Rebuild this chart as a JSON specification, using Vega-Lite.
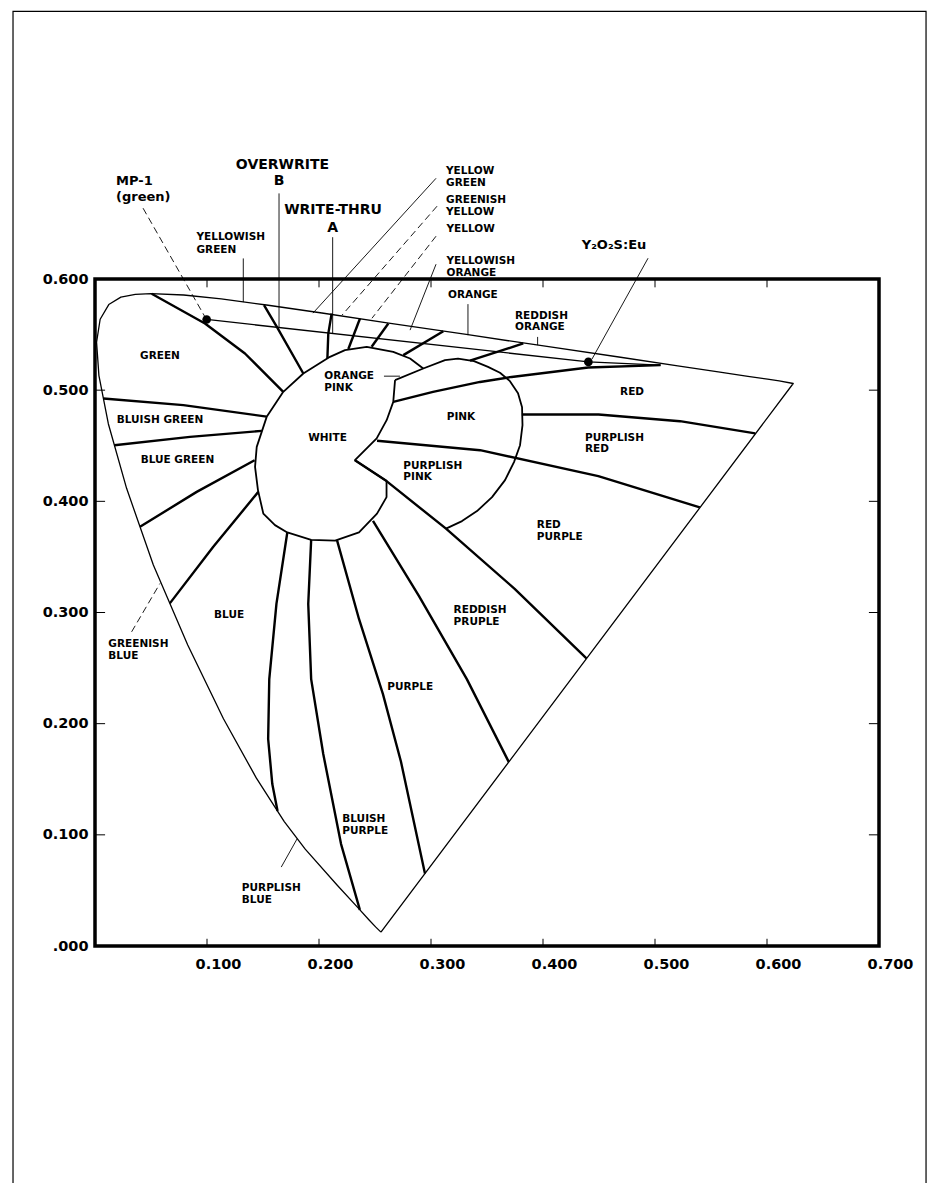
{
"$schema":"https://vega.github.io/schema/vega-lite/v6.json",
"width":784,"height":667,
"autosize":{"type":"none"},
"padding":{"left":95,"top":279,"right":62,"bottom":237},
"background":"white",
"config":{"view":{"stroke":"black","strokeWidth":3.5},"font":"DejaVu Sans"},
"datasets":{
"lines":[
{"id":"locus","k":"thin","o":0,"u":0.2553,"v":0.0125},
{"id":"locus","k":"thin","o":1,"u":0.2505,"v":0.0172},
{"id":"locus","k":"thin","o":2,"u":0.2445,"v":0.0236},
{"id":"locus","k":"thin","o":3,"u":0.2347,"v":0.0345},
{"id":"locus","k":"thin","o":4,"u":0.2161,"v":0.0549},
{"id":"locus","k":"thin","o":5,"u":0.1877,"v":0.0871},
{"id":"locus","k":"thin","o":6,"u":0.1690,"v":0.1119},
{"id":"locus","k":"thin","o":7,"u":0.1441,"v":0.1510},
{"id":"locus","k":"thin","o":8,"u":0.1147,"v":0.2044},
{"id":"locus","k":"thin","o":9,"u":0.0828,"v":0.2708},
{"id":"locus","k":"thin","o":10,"u":0.0521,"v":0.3427},
{"id":"locus","k":"thin","o":11,"u":0.0282,"v":0.4117},
{"id":"locus","k":"thin","o":12,"u":0.0119,"v":0.4698},
{"id":"locus","k":"thin","o":13,"u":0.0035,"v":0.5131},
{"id":"locus","k":"thin","o":14,"u":0.0014,"v":0.5431},
{"id":"locus","k":"thin","o":15,"u":0.0046,"v":0.5638},
{"id":"locus","k":"thin","o":16,"u":0.0123,"v":0.5770},
{"id":"locus","k":"thin","o":17,"u":0.0231,"v":0.5837},
{"id":"locus","k":"thin","o":18,"u":0.0360,"v":0.5861},
{"id":"locus","k":"thin","o":19,"u":0.0501,"v":0.5868},
{"id":"locus","k":"thin","o":20,"u":0.0792,"v":0.5856},
{"id":"locus","k":"thin","o":21,"u":0.1127,"v":0.5821},
{"id":"locus","k":"thin","o":22,"u":0.1531,"v":0.5766},
{"id":"locus","k":"thin","o":23,"u":0.2026,"v":0.5694},
{"id":"locus","k":"thin","o":24,"u":0.2623,"v":0.5604},
{"id":"locus","k":"thin","o":25,"u":0.3315,"v":0.5501},
{"id":"locus","k":"thin","o":26,"u":0.4035,"v":0.5393},
{"id":"locus","k":"thin","o":27,"u":0.4692,"v":0.5296},
{"id":"locus","k":"thin","o":28,"u":0.5203,"v":0.5219},
{"id":"locus","k":"thin","o":29,"u":0.5565,"v":0.5165},
{"id":"locus","k":"thin","o":30,"u":0.5830,"v":0.5125},
{"id":"locus","k":"thin","o":31,"u":0.6005,"v":0.5099},
{"id":"locus","k":"thin","o":32,"u":0.6109,"v":0.5084},
{"id":"locus","k":"thin","o":33,"u":0.6234,"v":0.5060},
{"id":"locus","k":"thin","o":34,"u":0.2553,"v":0.0125},
{"id":"inner","k":"thin","o":0,"u":0.0997,"v":0.5636},
{"id":"inner","k":"thin","o":1,"u":0.4405,"v":0.5254},
{"id":"inner","k":"thin","o":2,"u":0.5050,"v":0.5225},
{"id":"b1","k":"thick","o":0,"u":0.0506,"v":0.5868},
{"id":"b1","k":"thick","o":1,"u":0.0982,"v":0.5600},
{"id":"b1","k":"thick","o":2,"u":0.1339,"v":0.5330},
{"id":"b1","k":"thick","o":3,"u":0.1681,"v":0.4985},
{"id":"b2","k":"thick","o":0,"u":0.0075,"v":0.4925},
{"id":"b2","k":"thick","o":1,"u":0.0789,"v":0.4865},
{"id":"b2","k":"thick","o":2,"u":0.1533,"v":0.4762},
{"id":"b3","k":"thick","o":0,"u":0.0173,"v":0.4505},
{"id":"b3","k":"thick","o":1,"u":0.0848,"v":0.4580},
{"id":"b3","k":"thick","o":2,"u":0.1490,"v":0.4634},
{"id":"b4","k":"thick","o":0,"u":0.0402,"v":0.3771},
{"id":"b4","k":"thick","o":1,"u":0.0908,"v":0.4085},
{"id":"b4","k":"thick","o":2,"u":0.1425,"v":0.4370},
{"id":"b5","k":"thick","o":0,"u":0.0668,"v":0.3082},
{"id":"b5","k":"thick","o":1,"u":0.1056,"v":0.3591},
{"id":"b5","k":"thick","o":2,"u":0.1458,"v":0.4085},
{"id":"b6","k":"thick","o":0,"u":0.1717,"v":0.3720},
{"id":"b6","k":"thick","o":1,"u":0.1620,"v":0.3077},
{"id":"b6","k":"thick","o":2,"u":0.1556,"v":0.2401},
{"id":"b6","k":"thick","o":3,"u":0.1546,"v":0.1862},
{"id":"b6","k":"thick","o":4,"u":0.1583,"v":0.1457},
{"id":"b6","k":"thick","o":5,"u":0.1630,"v":0.1215},
{"id":"b7","k":"thick","o":0,"u":0.1930,"v":0.3653},
{"id":"b7","k":"thick","o":1,"u":0.1904,"v":0.3077},
{"id":"b7","k":"thick","o":2,"u":0.1930,"v":0.2401},
{"id":"b7","k":"thick","o":3,"u":0.2038,"v":0.1727},
{"id":"b7","k":"thick","o":4,"u":0.2197,"v":0.0917},
{"id":"b7","k":"thick","o":5,"u":0.2365,"v":0.0325},
{"id":"b8","k":"thick","o":0,"u":0.2160,"v":0.3653},
{"id":"b8","k":"thick","o":1,"u":0.2357,"v":0.2942},
{"id":"b8","k":"thick","o":2,"u":0.2571,"v":0.2266},
{"id":"b8","k":"thick","o":3,"u":0.2732,"v":0.1657},
{"id":"b8","k":"thick","o":4,"u":0.2946,"v":0.0652},
{"id":"b9","k":"thick","o":0,"u":0.2482,"v":0.3825},
{"id":"b9","k":"thick","o":1,"u":0.2893,"v":0.3147},
{"id":"b9","k":"thick","o":2,"u":0.3320,"v":0.2401},
{"id":"b9","k":"thick","o":3,"u":0.3694,"v":0.1656},
{"id":"b10","k":"thick","o":0,"u":0.2321,"v":0.4370},
{"id":"b10","k":"thick","o":1,"u":0.2603,"v":0.4182},
{"id":"b10","k":"thick","o":2,"u":0.3134,"v":0.3754},
{"id":"b10","k":"thick","o":3,"u":0.3747,"v":0.3213},
{"id":"b10","k":"thick","o":4,"u":0.4388,"v":0.2587},
{"id":"b11","k":"thick","o":0,"u":0.2518,"v":0.4545},
{"id":"b11","k":"thick","o":1,"u":0.3438,"v":0.4460},
{"id":"b11","k":"thick","o":2,"u":0.4494,"v":0.4227},
{"id":"b11","k":"thick","o":3,"u":0.5400,"v":0.3946},
{"id":"b12","k":"thick","o":0,"u":0.3811,"v":0.4781},
{"id":"b12","k":"thick","o":1,"u":0.4496,"v":0.4781},
{"id":"b12","k":"thick","o":2,"u":0.5223,"v":0.4721},
{"id":"b12","k":"thick","o":3,"u":0.5895,"v":0.4611},
{"id":"b13","k":"thick","o":0,"u":0.2663,"v":0.4895},
{"id":"b13","k":"thick","o":1,"u":0.3018,"v":0.4984},
{"id":"b13","k":"thick","o":2,"u":0.3438,"v":0.5074},
{"id":"b13","k":"thick","o":3,"u":0.3720,"v":0.5119},
{"id":"b13","k":"thick","o":4,"u":0.4404,"v":0.5204},
{"id":"b13","k":"thick","o":5,"u":0.5050,"v":0.5225},
{"id":"ta","k":"thick","o":0,"u":0.1509,"v":0.5764},
{"id":"ta","k":"thick","o":1,"u":0.1625,"v":0.5567},
{"id":"ta","k":"thick","o":2,"u":0.1860,"v":0.5150},
{"id":"tb","k":"thick","o":0,"u":0.2113,"v":0.5689},
{"id":"tb","k":"thick","o":1,"u":0.2083,"v":0.5509},
{"id":"tb","k":"thick","o":2,"u":0.2075,"v":0.5287},
{"id":"tc","k":"thick","o":0,"u":0.2366,"v":0.5645},
{"id":"tc","k":"thick","o":1,"u":0.2262,"v":0.5370},
{"id":"td","k":"thick","o":0,"u":0.2619,"v":0.5600},
{"id":"td","k":"thick","o":1,"u":0.2470,"v":0.5390},
{"id":"te","k":"thick","o":0,"u":0.3110,"v":0.5530},
{"id":"te","k":"thick","o":1,"u":0.2753,"v":0.5315},
{"id":"tf","k":"thick","o":0,"u":0.3824,"v":0.5420},
{"id":"tf","k":"thick","o":1,"u":0.3348,"v":0.5265},
{"id":"blob","k":"outline","o":0,"u":0.2931,"v":0.5195},
{"id":"blob","k":"outline","o":1,"u":0.2813,"v":0.5285},
{"id":"blob","k":"outline","o":2,"u":0.2663,"v":0.5344},
{"id":"blob","k":"outline","o":3,"u":0.2426,"v":0.5389},
{"id":"blob","k":"outline","o":4,"u":0.2232,"v":0.5360},
{"id":"blob","k":"outline","o":5,"u":0.2098,"v":0.5300},
{"id":"blob","k":"outline","o":6,"u":0.1860,"v":0.5150},
{"id":"blob","k":"outline","o":7,"u":0.1681,"v":0.4985},
{"id":"blob","k":"outline","o":8,"u":0.1533,"v":0.4760},
{"id":"blob","k":"outline","o":9,"u":0.1444,"v":0.4490},
{"id":"blob","k":"outline","o":10,"u":0.1429,"v":0.4310},
{"id":"blob","k":"outline","o":11,"u":0.1455,"v":0.4101},
{"id":"blob","k":"outline","o":12,"u":0.1503,"v":0.3889},
{"id":"blob","k":"outline","o":13,"u":0.1607,"v":0.3786},
{"id":"blob","k":"outline","o":14,"u":0.1717,"v":0.3720},
{"id":"blob","k":"outline","o":15,"u":0.1930,"v":0.3653},
{"id":"blob","k":"outline","o":16,"u":0.2144,"v":0.3646},
{"id":"blob","k":"outline","o":17,"u":0.2357,"v":0.3720},
{"id":"blob","k":"outline","o":18,"u":0.2518,"v":0.3889},
{"id":"blob","k":"outline","o":19,"u":0.2603,"v":0.4038},
{"id":"blob","k":"outline","o":20,"u":0.2603,"v":0.4182},
{"id":"blob","k":"outline","o":21,"u":0.2321,"v":0.4370},
{"id":"blob","k":"outline","o":22,"u":0.2515,"v":0.4566},
{"id":"blob","k":"outline","o":23,"u":0.2604,"v":0.4730},
{"id":"blob","k":"outline","o":24,"u":0.2663,"v":0.4895},
{"id":"blob","k":"outline","o":25,"u":0.2679,"v":0.5090},
{"id":"ellipse","k":"outline","o":0,"u":0.2679,"v":0.5090},
{"id":"ellipse","k":"outline","o":1,"u":0.2931,"v":0.5195},
{"id":"ellipse","k":"outline","o":2,"u":0.3125,"v":0.5270},
{"id":"ellipse","k":"outline","o":3,"u":0.3241,"v":0.5283},
{"id":"ellipse","k":"outline","o":4,"u":0.3384,"v":0.5261},
{"id":"ellipse","k":"outline","o":5,"u":0.3509,"v":0.5210},
{"id":"ellipse","k":"outline","o":6,"u":0.3616,"v":0.5157},
{"id":"ellipse","k":"outline","o":7,"u":0.3705,"v":0.5081},
{"id":"ellipse","k":"outline","o":8,"u":0.3777,"v":0.4973},
{"id":"ellipse","k":"outline","o":9,"u":0.3813,"v":0.4847},
{"id":"ellipse","k":"outline","o":10,"u":0.3817,"v":0.4685},
{"id":"ellipse","k":"outline","o":11,"u":0.3795,"v":0.4505},
{"id":"ellipse","k":"outline","o":12,"u":0.3741,"v":0.4353},
{"id":"ellipse","k":"outline","o":13,"u":0.3661,"v":0.4191},
{"id":"ellipse","k":"outline","o":14,"u":0.3545,"v":0.4038},
{"id":"ellipse","k":"outline","o":15,"u":0.3411,"v":0.3912},
{"id":"ellipse","k":"outline","o":16,"u":0.3277,"v":0.3822},
{"id":"ellipse","k":"outline","o":17,"u":0.3134,"v":0.3754},
{"id":"lmp1","k":"dash","o":0,"u":0.0429,"v":0.6637},
{"id":"lmp1","k":"dash","o":1,"u":0.0982,"v":0.5659},
{"id":"lywg","k":"leader","o":0,"u":0.1324,"v":0.6185},
{"id":"lywg","k":"leader","o":1,"u":0.1324,"v":0.5792},
{"id":"lB","k":"leader","o":0,"u":0.1643,"v":0.6770},
{"id":"lB","k":"leader","o":1,"u":0.1643,"v":0.5564},
{"id":"lA","k":"leader","o":0,"u":0.2122,"v":0.6376},
{"id":"lA","k":"leader","o":1,"u":0.2122,"v":0.5510},
{"id":"lyg","k":"leader","o":0,"u":0.3045,"v":0.6906},
{"id":"lyg","k":"leader","o":1,"u":0.1946,"v":0.5693},
{"id":"lgy","k":"dash","o":0,"u":0.3054,"v":0.6655},
{"id":"lgy","k":"dash","o":1,"u":0.2205,"v":0.5674},
{"id":"ly","k":"dash","o":0,"u":0.3045,"v":0.6385},
{"id":"ly","k":"dash","o":1,"u":0.2473,"v":0.5647},
{"id":"lyo","k":"leader","o":0,"u":0.3045,"v":0.6133},
{"id":"lyo","k":"leader","o":1,"u":0.2813,"v":0.5540},
{"id":"lo","k":"leader","o":0,"u":0.3330,"v":0.5774},
{"id":"lo","k":"leader","o":1,"u":0.3330,"v":0.5495},
{"id":"lro","k":"leader","o":0,"u":0.3952,"v":0.5479},
{"id":"lro","k":"leader","o":1,"u":0.3952,"v":0.5405},
{"id":"ly2","k":"leader","o":0,"u":0.4938,"v":0.6187},
{"id":"ly2","k":"leader","o":1,"u":0.4437,"v":0.5279},
{"id":"lop","k":"leader","o":0,"u":0.2580,"v":0.5126},
{"id":"lop","k":"leader","o":1,"u":0.2723,"v":0.5126},
{"id":"lgb","k":"dash","o":0,"u":0.0327,"v":0.2826},
{"id":"lgb","k":"dash","o":1,"u":0.0580,"v":0.3261},
{"id":"lpb","k":"leader","o":0,"u":0.1663,"v":0.0710},
{"id":"lpb","k":"leader","o":1,"u":0.1805,"v":0.0965},
{"id":"page","k":"border","o":0,"u":-0.0732,"v":-0.25},
{"id":"page","k":"border","o":1,"u":-0.0732,"v":0.8408},
{"id":"page","k":"border","o":2,"u":0.7420,"v":0.8408},
{"id":"page","k":"border","o":3,"u":0.7420,"v":-0.25},
{"id":"tb1","k":"tick","o":0,"u":0.1,"v":0},{"id":"tb1","k":"tick","o":1,"u":0.1,"v":0.0065},
{"id":"tb2","k":"tick","o":0,"u":0.2,"v":0},{"id":"tb2","k":"tick","o":1,"u":0.2,"v":0.0065},
{"id":"tb3","k":"tick","o":0,"u":0.3,"v":0},{"id":"tb3","k":"tick","o":1,"u":0.3,"v":0.0065},
{"id":"tb4","k":"tick","o":0,"u":0.4,"v":0},{"id":"tb4","k":"tick","o":1,"u":0.4,"v":0.0065},
{"id":"tb5","k":"tick","o":0,"u":0.5,"v":0},{"id":"tb5","k":"tick","o":1,"u":0.5,"v":0.0065},
{"id":"tb6","k":"tick","o":0,"u":0.6,"v":0},{"id":"tb6","k":"tick","o":1,"u":0.6,"v":0.0065},
{"id":"tt1","k":"tick","o":0,"u":0.1,"v":0.6},{"id":"tt1","k":"tick","o":1,"u":0.1,"v":0.5925},
{"id":"tt2","k":"tick","o":0,"u":0.2,"v":0.6},{"id":"tt2","k":"tick","o":1,"u":0.2,"v":0.5925},
{"id":"tt3","k":"tick","o":0,"u":0.3,"v":0.6},{"id":"tt3","k":"tick","o":1,"u":0.3,"v":0.5925},
{"id":"tt4","k":"tick","o":0,"u":0.4,"v":0.6},{"id":"tt4","k":"tick","o":1,"u":0.4,"v":0.5925},
{"id":"tt5","k":"tick","o":0,"u":0.5,"v":0.6},{"id":"tt5","k":"tick","o":1,"u":0.5,"v":0.5925},
{"id":"tt6","k":"tick","o":0,"u":0.6,"v":0.6},{"id":"tt6","k":"tick","o":1,"u":0.6,"v":0.5925},
{"id":"tl1","k":"tick","o":0,"u":0,"v":0.1},{"id":"tl1","k":"tick","o":1,"u":0.009,"v":0.1},
{"id":"tl2","k":"tick","o":0,"u":0,"v":0.2},{"id":"tl2","k":"tick","o":1,"u":0.009,"v":0.2},
{"id":"tl3","k":"tick","o":0,"u":0,"v":0.3},{"id":"tl3","k":"tick","o":1,"u":0.009,"v":0.3},
{"id":"tl4","k":"tick","o":0,"u":0,"v":0.4},{"id":"tl4","k":"tick","o":1,"u":0.009,"v":0.4},
{"id":"tl5","k":"tick","o":0,"u":0,"v":0.5},{"id":"tl5","k":"tick","o":1,"u":0.009,"v":0.5},
{"id":"tr1","k":"tick","o":0,"u":0.7,"v":0.1},{"id":"tr1","k":"tick","o":1,"u":0.691,"v":0.1},
{"id":"tr2","k":"tick","o":0,"u":0.7,"v":0.2},{"id":"tr2","k":"tick","o":1,"u":0.691,"v":0.2},
{"id":"tr3","k":"tick","o":0,"u":0.7,"v":0.3},{"id":"tr3","k":"tick","o":1,"u":0.691,"v":0.3},
{"id":"tr4","k":"tick","o":0,"u":0.7,"v":0.4},{"id":"tr4","k":"tick","o":1,"u":0.691,"v":0.4},
{"id":"tr5","k":"tick","o":0,"u":0.7,"v":0.5},{"id":"tr5","k":"tick","o":1,"u":0.691,"v":0.5}
],
"dots":[
{"name":"MP-1","u":0.0997,"v":0.5636},
{"name":"Y2O2S:Eu","u":0.4405,"v":0.5254}
],
"regionText":[
{"t":"YELLOWISH","u":0.0906,"v":0.6376},
{"t":"GREEN","u":0.0906,"v":0.6265},
{"t":"YELLOW","u":0.3134,"v":0.6969},
{"t":"GREEN","u":0.3134,"v":0.6862},
{"t":"GREENISH","u":0.3134,"v":0.6709},
{"t":"YELLOW","u":0.3134,"v":0.6601},
{"t":"YELLOW","u":0.3138,"v":0.6448},
{"t":"YELLOWISH","u":0.3138,"v":0.6165},
{"t":"ORANGE","u":0.3138,"v":0.6057},
{"t":"ORANGE","u":0.3152,"v":0.5857},
{"t":"REDDISH","u":0.3750,"v":0.5665},
{"t":"ORANGE","u":0.3750,"v":0.5566},
{"t":"GREEN","u":0.0402,"v":0.5310},
{"t":"BLUISH GREEN","u":0.0194,"v":0.4728},
{"t":"BLUE GREEN","u":0.0408,"v":0.4375},
{"t":"WHITE","u":0.1904,"v":0.4573},
{"t":"ORANGE","u":0.2047,"v":0.5128},
{"t":"PINK","u":0.2047,"v":0.5015},
{"t":"PINK","u":0.3140,"v":0.4757},
{"t":"PURPLISH","u":0.2753,"v":0.4317},
{"t":"PINK","u":0.2753,"v":0.4218},
{"t":"RED","u":0.4688,"v":0.4985},
{"t":"PURPLISH","u":0.4375,"v":0.4573},
{"t":"RED","u":0.4375,"v":0.4469},
{"t":"RED","u":0.3945,"v":0.3788},
{"t":"PURPLE","u":0.3945,"v":0.3680},
{"t":"REDDISH","u":0.3202,"v":0.3023},
{"t":"PRUPLE","u":0.3202,"v":0.2915},
{"t":"PURPLE","u":0.2609,"v":0.2334},
{"t":"BLUE","u":0.1063,"v":0.2981},
{"t":"BLUISH","u":0.2208,"v":0.1144},
{"t":"PURPLE","u":0.2208,"v":0.1035},
{"t":"PURPLISH","u":0.1311,"v":0.0522},
{"t":"BLUE","u":0.1311,"v":0.0414},
{"t":"GREENISH","u":0.0119,"v":0.2719},
{"t":"BLUE","u":0.0119,"v":0.2612}
],
"calloutText":[
{"t":"MP-1","u":0.0188,"v":0.6880},
{"t":"(green)","u":0.0188,"v":0.6736},
{"t":"Y₂O₂S:Eu","u":0.4346,"v":0.6304}
],
"centerText":[
{"t":"OVERWRITE","u":0.1674,"v":0.7023},
{"t":"B","u":0.1643,"v":0.6880},
{"t":"WRITE-THRU","u":0.2125,"v":0.6619},
{"t":"A","u":0.2122,"v":0.6461}
]
},
"encoding":{
"x":{"field":"u","type":"quantitative","scale":{"domain":[0,0.7],"nice":false,"zero":false},
"axis":{"values":[0.1,0.2,0.3,0.4,0.5,0.6,0.7],"format":".3f","title":null,"grid":false,"domain":false,"ticks":false,"labelFont":"DejaVu Sans","labelFontWeight":"bold","labelFontSize":14.5,"labelColor":"black","labelPadding":11,"labelOffset":11,"labelFlush":false,"labelOverlap":false,"labelBaseline":"top"}},
"y":{"field":"v","type":"quantitative","scale":{"domain":[0,0.6],"nice":false,"zero":false},
"axis":{"values":[0,0.1,0.2,0.3,0.4,0.5,0.6],"labelExpr":"datum.value == 0 ? '.000' : format(datum.value, '.3f')","title":null,"grid":false,"domain":false,"ticks":false,"labelFont":"DejaVu Sans","labelFontWeight":"bold","labelFontSize":14.5,"labelColor":"black","labelPadding":7,"labelFlush":false,"labelOverlap":false,"labelAlign":"right","labelBaseline":"middle"}}
},
"layer":[
{"data":{"name":"lines"},"transform":[{"filter":"datum.k == 'border'"}],"mark":{"type":"line","color":"black","strokeWidth":1.2,"clip":false},
"encoding":{"detail":{"field":"id"},"order":{"field":"o","type":"quantitative"}}},
{"data":{"name":"lines"},"transform":[{"filter":"datum.k == 'tick'"}],"mark":{"type":"line","color":"black","strokeWidth":1,"clip":false},
"encoding":{"detail":{"field":"id"},"order":{"field":"o","type":"quantitative"}}},
{"data":{"name":"lines"},"transform":[{"filter":"datum.k == 'thin'"}],"mark":{"type":"line","color":"black","strokeWidth":1.3,"clip":false,"strokeJoin":"round"},
"encoding":{"detail":{"field":"id"},"order":{"field":"o","type":"quantitative"}}},
{"data":{"name":"lines"},"transform":[{"filter":"datum.k == 'thick'"}],"mark":{"type":"line","color":"black","strokeWidth":2.4,"clip":false,"strokeJoin":"round"},
"encoding":{"detail":{"field":"id"},"order":{"field":"o","type":"quantitative"}}},
{"data":{"name":"lines"},"transform":[{"filter":"datum.k == 'outline'"}],"mark":{"type":"line","color":"black","strokeWidth":1.8,"clip":false,"strokeJoin":"round"},
"encoding":{"detail":{"field":"id"},"order":{"field":"o","type":"quantitative"}}},
{"data":{"name":"lines"},"transform":[{"filter":"datum.k == 'leader'"}],"mark":{"type":"line","color":"black","strokeWidth":0.9,"clip":false},
"encoding":{"detail":{"field":"id"},"order":{"field":"o","type":"quantitative"}}},
{"data":{"name":"lines"},"transform":[{"filter":"datum.k == 'dash'"}],"mark":{"type":"line","color":"black","strokeWidth":0.9,"strokeDash":[7,4],"clip":false},
"encoding":{"detail":{"field":"id"},"order":{"field":"o","type":"quantitative"}}},
{"data":{"name":"dots"},"mark":{"type":"point","filled":true,"color":"black","opacity":1,"size":75,"clip":false}},
{"data":{"name":"regionText"},"mark":{"type":"text","font":"DejaVu Sans","fontWeight":"bold","fontSize":10.5,"align":"left","baseline":"middle","color":"black","clip":false},
"encoding":{"text":{"field":"t"}}},
{"data":{"name":"calloutText"},"mark":{"type":"text","font":"DejaVu Sans","fontWeight":"bold","fontSize":13,"align":"left","baseline":"middle","color":"black","clip":false},
"encoding":{"text":{"field":"t"}}},
{"data":{"name":"centerText"},"mark":{"type":"text","font":"DejaVu Sans","fontWeight":"bold","fontSize":14,"align":"center","baseline":"middle","color":"black","clip":false},
"encoding":{"text":{"field":"t"}}}
]
}
